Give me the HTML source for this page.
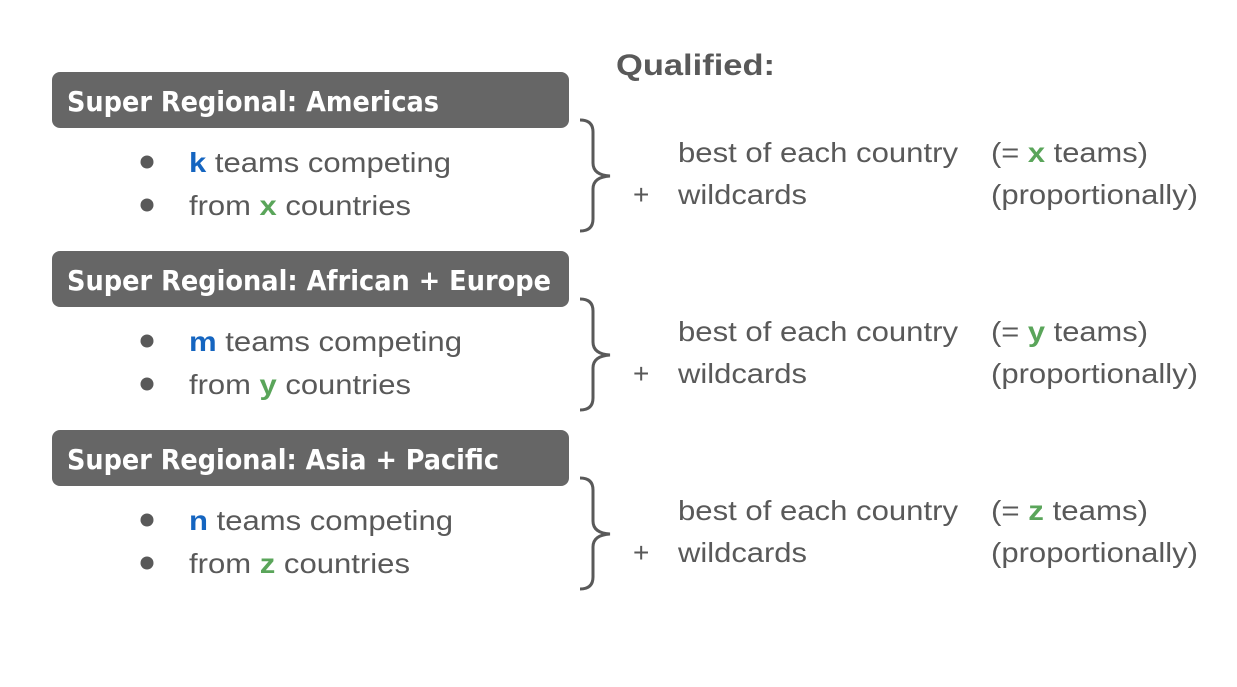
<!DOCTYPE html>
<html><head><meta charset="utf-8"><style>
html,body{margin:0;padding:0;background:#fff;}
svg{display:block;}
text{font-family:"Liberation Sans",sans-serif;fill:#595959;}
.hd{font-family:"DejaVu Sans","Liberation Sans",sans-serif;font-weight:bold;fill:#fff;font-size:28px;}
.b{font-size:28px;}
.blue{fill:#1565c0;font-weight:bold;}
.green{fill:#5aa55a;font-weight:bold;}
</style></head><body>
<svg width="1237" height="687" viewBox="0 0 1237 687">
<text x="616" y="75" font-size="30" font-weight="bold" textLength="159" lengthAdjust="spacingAndGlyphs">Qualified:</text>

<g>
<rect x="52" y="72" width="517" height="56" rx="8" fill="#666666"/>
<text class="hd" x="67" y="111" textLength="372" lengthAdjust="spacingAndGlyphs">Super Regional: Americas</text>
<circle cx="147" cy="162" r="6.5" fill="#595959"/>
<circle cx="147" cy="205" r="6.5" fill="#595959"/>
<text class="b" x="189" y="172" textLength="262" lengthAdjust="spacingAndGlyphs"><tspan class="blue">k</tspan> teams competing</text>
<text class="b" x="189" y="215" textLength="222" lengthAdjust="spacingAndGlyphs">from <tspan class="green">x</tspan> countries</text>
<path d="M580,120 Q593,120 593,132 L593,163 Q593,175 610,176 Q593,177 593,189 L593,219 Q593,231 580,231" fill="none" stroke="#595959" stroke-width="3"/>
<text class="b" x="678" y="162" textLength="280" lengthAdjust="spacingAndGlyphs">best of each country</text>
<text class="b" x="991" y="162" textLength="157" lengthAdjust="spacingAndGlyphs">(= <tspan class="green">x</tspan> teams)</text>
<text class="b" x="633" y="204">+</text>
<text class="b" x="678" y="204" textLength="129" lengthAdjust="spacingAndGlyphs">wildcards</text>
<text class="b" x="991" y="204" textLength="207" lengthAdjust="spacingAndGlyphs">(proportionally)</text>
</g>

<g transform="translate(0,179)">
<rect x="52" y="72" width="517" height="56" rx="8" fill="#666666"/>
<text class="hd" x="67" y="111" textLength="484" lengthAdjust="spacingAndGlyphs">Super Regional: African + Europe</text>
<circle cx="147" cy="162" r="6.5" fill="#595959"/>
<circle cx="147" cy="205" r="6.5" fill="#595959"/>
<text class="b" x="189" y="172" textLength="273" lengthAdjust="spacingAndGlyphs"><tspan class="blue">m</tspan> teams competing</text>
<text class="b" x="189" y="215" textLength="222" lengthAdjust="spacingAndGlyphs">from <tspan class="green">y</tspan> countries</text>
<path d="M580,120 Q593,120 593,132 L593,163 Q593,175 610,176 Q593,177 593,189 L593,219 Q593,231 580,231" fill="none" stroke="#595959" stroke-width="3"/>
<text class="b" x="678" y="162" textLength="280" lengthAdjust="spacingAndGlyphs">best of each country</text>
<text class="b" x="991" y="162" textLength="157" lengthAdjust="spacingAndGlyphs">(= <tspan class="green">y</tspan> teams)</text>
<text class="b" x="633" y="204">+</text>
<text class="b" x="678" y="204" textLength="129" lengthAdjust="spacingAndGlyphs">wildcards</text>
<text class="b" x="991" y="204" textLength="207" lengthAdjust="spacingAndGlyphs">(proportionally)</text>
</g>

<g transform="translate(0,358)">
<rect x="52" y="72" width="517" height="56" rx="8" fill="#666666"/>
<text class="hd" x="67" y="111" textLength="432" lengthAdjust="spacingAndGlyphs">Super Regional: Asia + Pacific</text>
<circle cx="147" cy="162" r="6.5" fill="#595959"/>
<circle cx="147" cy="205" r="6.5" fill="#595959"/>
<text class="b" x="189" y="172" textLength="264" lengthAdjust="spacingAndGlyphs"><tspan class="blue">n</tspan> teams competing</text>
<text class="b" x="189" y="215" textLength="221" lengthAdjust="spacingAndGlyphs">from <tspan class="green">z</tspan> countries</text>
<path d="M580,120 Q593,120 593,132 L593,163 Q593,175 610,176 Q593,177 593,189 L593,219 Q593,231 580,231" fill="none" stroke="#595959" stroke-width="3"/>
<text class="b" x="678" y="162" textLength="280" lengthAdjust="spacingAndGlyphs">best of each country</text>
<text class="b" x="991" y="162" textLength="157" lengthAdjust="spacingAndGlyphs">(= <tspan class="green">z</tspan> teams)</text>
<text class="b" x="633" y="204">+</text>
<text class="b" x="678" y="204" textLength="129" lengthAdjust="spacingAndGlyphs">wildcards</text>
<text class="b" x="991" y="204" textLength="207" lengthAdjust="spacingAndGlyphs">(proportionally)</text>
</g>
</svg>
</body></html>
